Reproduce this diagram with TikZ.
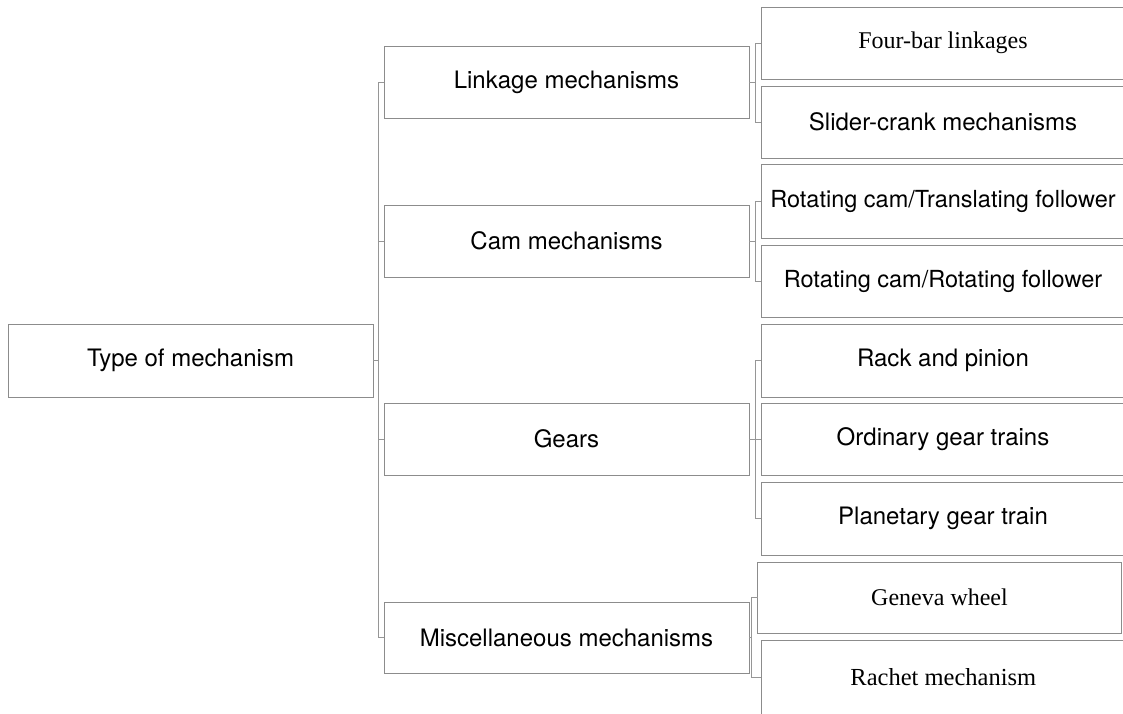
\documentclass[tikz,border=0pt]{standalone}
\usepackage{fontspec}
\setmainfont{TeX Gyre Heros}
\newfontfamily\timesfont{Liberation Serif}
\definecolor{boxgray}{RGB}{140,140,140}
\definecolor{linkgray}{RGB}{150,150,150}
\begin{document}
\begin{tikzpicture}[x=1pt,y=-1pt,
  box/.style={draw=boxgray, line width=1pt, rectangle, outer sep=0pt, inner sep=0pt,
    minimum width=365pt, minimum height=72pt, font=\fontsize{24}{28}\selectfont},
  leaf/.style={box, minimum width=364pt},
  openleaf/.style={leaf, draw=none},
  serif/.style={font=\timesfont\fontsize{24}{28}\selectfont},
  boxline/.style={draw=boxgray, line width=1pt},
  link/.style={draw=linkgray, line width=1pt}]
\useasboundingbox (0,0) rectangle (1123,713);
\clip (0,0) rectangle (1123,713);

% root and first level
\node[box, minimum height=73pt] (root) at (190.5,360.5) {Type of mechanism};
\node[box] (lnk)  at (566.5,82)    {Linkage mechanisms};
\node[box] (cam)  at (566.5,241)   {Cam mechanisms};
\node[box] (gear) at (566.5,439)   {Gears};
\node[box, minimum height=71pt] (misc) at (566.5,637.5) {Miscellaneous mechanisms};

% second level (boxes run off the right edge, except the Geneva wheel)
\node[openleaf, serif] (fb) at (943,43) {Four-bar linkages};
\node[openleaf] (sc) at (943,122) {Slider-crank mechanisms};
\node[openleaf, minimum height=74pt, font=\fontsize{23.5}{28}\selectfont] (rt) at (943,201) {Rotating cam/Translating follower};
\node[openleaf, font=\fontsize{23.5}{28}\selectfont] (rr) at (943,281) {Rotating cam/Rotating follower};
\node[openleaf, minimum height=73pt] (rp) at (943,360.5) {Rack and pinion};
\node[openleaf] (og) at (943,439) {Ordinary gear trains};
\node[openleaf, minimum height=73pt] (pg) at (943,518.5) {Planetary gear train};
\node[leaf, serif, minimum height=71pt] (gw) at (939.5,597.5) {Geneva wheel};
\node[openleaf, serif, font=\timesfont\fontsize{24.5}{28}\selectfont, minimum height=74pt] (rm) at (943.3,677.5) {Rachet mechanism};

\foreach \n in {fb,sc,rt,rr,rp,og,pg,rm}
  \draw[boxline] ([xshift=30pt]\n.north east) -- (\n.north west) -- (\n.south west) -- ([xshift=30pt]\n.south east);

% root bracket
\path (root.east) ++(5.5,0) coordinate (jr);
\draw[link] (root.east) -- (jr);
\draw[link] (lnk.west) -- (lnk.west -| jr) -- (misc.west -| jr) -- (misc.west);
\draw[link] (cam.west) -- (cam.west -| jr);
\draw[link] (gear.west) -- (gear.west -| jr);

% linkage bracket
\path (lnk.east) ++(6.5,0) coordinate (jl);
\draw[link] (lnk.east) -- (jl);
\draw[link] (fb.west) -- (fb.west -| jl) -- (sc.west -| jl) -- (sc.west);

% cam bracket
\path (cam.east) ++(6.5,0) coordinate (jc);
\draw[link] (cam.east) -- (jc);
\draw[link] (rt.west) -- (rt.west -| jc) -- (rr.west -| jc) -- (rr.west);

% gear bracket
\path (gear.east) ++(6.5,0) coordinate (jg);
\draw[link] (gear.east) -- (jg);
\draw[link] (rp.west) -- (rp.west -| jg) -- (pg.west -| jg) -- (pg.west);
\draw[link] (og.west) -- (og.west -| jg);

% miscellaneous bracket
\path (misc.east) ++(2.5,0) coordinate (jm);
\draw[link] (misc.east) -- (jm);
\draw[link] (gw.west) -- (gw.west -| jm) -- (rm.west -| jm) -- (rm.west);
\end{tikzpicture}
\end{document}
